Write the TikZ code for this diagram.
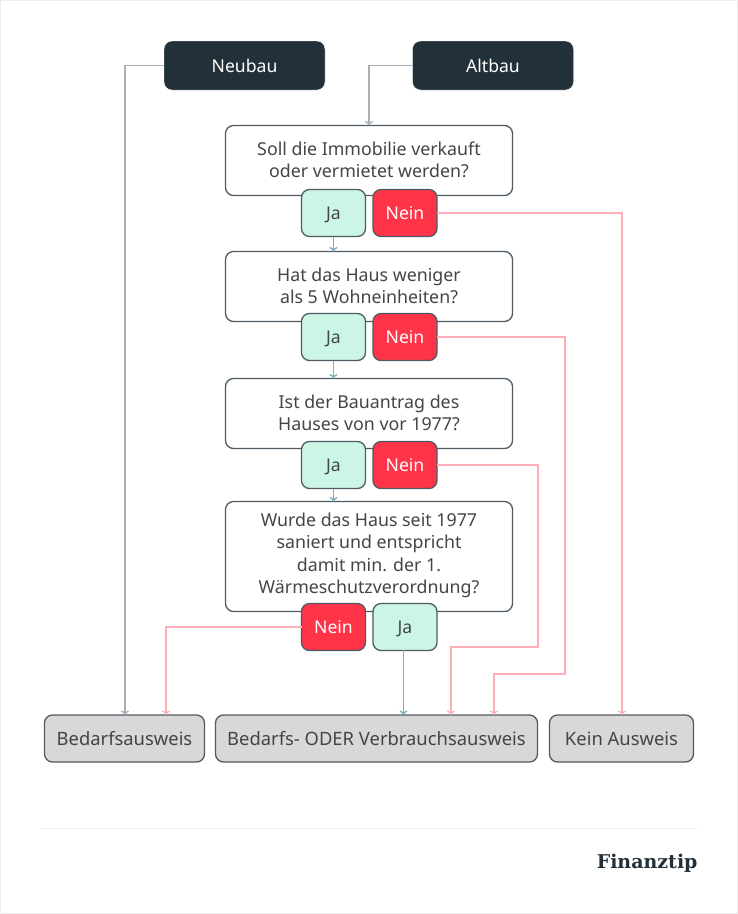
\documentclass[tikz,border=0pt]{standalone}
\usepackage{fontspec}
\usetikzlibrary{arrows.meta}
\setmainfont{Noto Sans}
\newfontfamily\logofont{DejaVu Serif}[BoldFont={DejaVu Serif Bold}]
\definecolor{dunkel}{HTML}{22303A}
\definecolor{rahmen}{HTML}{4F5B64}
\definecolor{schrift}{HTML}{454545}
\definecolor{jagruen}{HTML}{CBF5E4}
\definecolor{neinrot}{HTML}{FF3448}
\definecolor{ausweisgrau}{HTML}{D8D8D8}
\definecolor{neinlinie}{HTML}{FFB0B6}
\definecolor{jalinie}{HTML}{7FB0BA}
\definecolor{startlinie}{HTML}{A9AFB3}

\begin{document}
\begin{tikzpicture}[x=1pt, y=-1pt,
every node/.style={font=\fontsize{17.6}{22.3}\selectfont, align=center, text=schrift, inner sep=0pt, outer sep=0pt, rounded corners=8pt, line width=1.3pt},
einzeilig/.style={text height=16pt, text depth=2.5pt},
start/.style={einzeilig, fill=dunkel, text=white, draw=white, line width=0.4pt, minimum width=161pt, minimum height=49pt},
frage/.style={fill=white, draw=rahmen, font=\fontsize{17.8}{22.3}\selectfont, text depth=2pt, minimum width=287pt, minimum height=70pt},
jabox/.style={einzeilig, fill=jagruen, draw=rahmen, minimum width=64pt, minimum height=47pt},
neinbox/.style={einzeilig, fill=neinrot, draw=rahmen, text=white, minimum width=64pt, minimum height=47pt},
ausweis/.style={einzeilig, fill=ausweisgrau, draw=rahmen, font=\fontsize{18.4}{22.3}\selectfont, minimum height=47pt},
janein/.style={line width=1.4pt, -{To[length=4.5pt,width=8pt]}},
jaline/.style={janein, draw=jalinie},
neinline/.style={janein, draw=neinlinie},
startline/.style={janein, draw=startlinie}]
\useasboundingbox (0,0) rectangle (738,914);
\fill[white] (0,0) rectangle (738,914);
\draw[color=black!7, line width=2pt] (0,0) rectangle (738,914);

\node[start] (neubau) at (244.5,65.5) {Neubau};
\node[start] (altbau) at (493,65.5) {Altbau};

\node[ausweis, minimum width=160pt] (bedarf) at (124.5,738.5) {Bedarfsausweis};
\node[ausweis, minimum width=322pt] (beides) at (376.5,738.5) {Bedarfs- ODER Verbrauchsausweis};
\node[ausweis, minimum width=144pt] (kein) at (621.5,738.5) {Kein Ausweis};

\node[frage] (frage1) at (369,160.5) {Soll die Immobilie verkauft\\oder vermietet werden?};
\node[frage] (frage2) at (369,286.5) {Hat das Haus weniger\\als 5 Wohneinheiten?};
\node[frage] (frage3) at (369,413.5) {Ist der Bauantrag des\\Hauses von vor 1977?};
\node[frage, text depth=6.5pt, minimum height=110pt] (frage4) at (369,556.5) {Wurde das Haus seit 1977\\saniert und entspricht\\damit min. der 1.\\Wärmeschutzverordnung?};

\node[jabox] (ja1) at (333.5,213) {Ja};
\node[neinbox] (nein1) at (405,213) {Nein};
\node[jabox] (ja2) at (333.5,337) {Ja};
\node[neinbox] (nein2) at (405,337) {Nein};
\node[jabox] (ja3) at (333.5,465) {Ja};
\node[neinbox] (nein3) at (405,465) {Nein};
\node[neinbox] (nein4) at (333.5,627) {Nein};
\node[jabox] (ja4) at (405,627) {Ja};

% knicke
\coordinate (knick2) at (565,674);
\coordinate (knick3) at (538,647);
\coordinate (ziel0) at (125,715);
\coordinate (ziel1) at (622,715);
\coordinate (ziel2) at (494,715);
\coordinate (ziel3) at (451,715);
\coordinate (ziel4) at (403.5,715);
\coordinate (ziel5) at (166,715);
\coordinate (aus4) at (403.5,650);

\draw[startline] (neubau.west) -| (ziel0);
\draw[startline] (altbau.west) -| (frage1.north);
\draw[jaline] (ja1.south) -- (frage2.north -| ja1.south);
\draw[jaline] (ja2.south) -- (frage3.north -| ja2.south);
\draw[jaline] (ja3.south) -- (frage4.north -| ja3.south);
\draw[jaline] (aus4) -- (ziel4);
\draw[neinline] (nein1.east) -| (ziel1);
\draw[neinline] (nein2.east) -| (knick2) -| (ziel2);
\draw[neinline] (nein3.east) -| (knick3) -| (ziel3);
\draw[neinline] (nein4.west) -| (ziel5);

\draw[color=black!6, line width=1pt] (41,828) -- (697,828);
\node[anchor=east, text=dunkel, font=\logofont\bfseries\fontsize{19}{22}\selectfont] (logo) at (697.5,863) {Finanztip};
\end{tikzpicture}
\end{document}
